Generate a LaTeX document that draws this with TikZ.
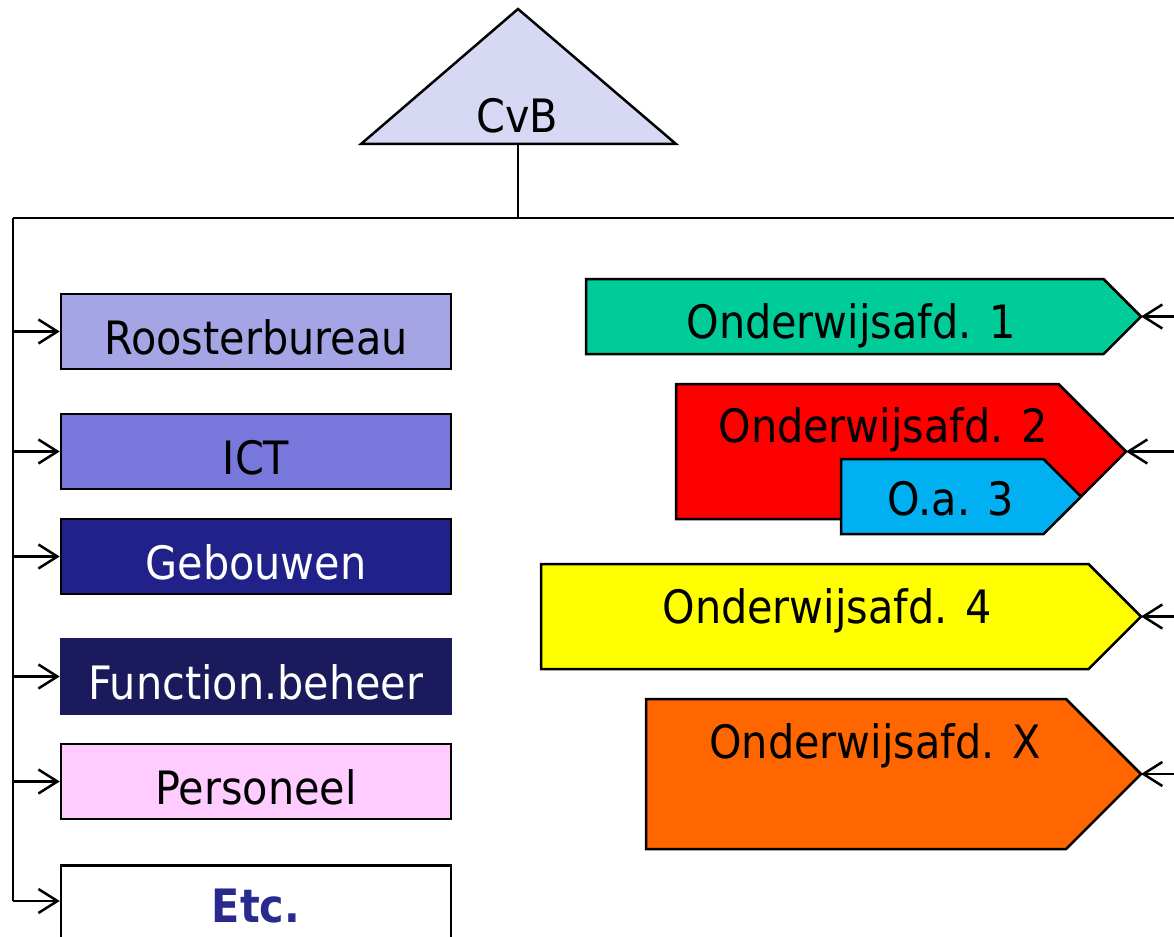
\documentclass[tikz,border=0pt]{standalone}
\usepackage{fontspec}
\setmainfont{DejaVu Sans Condensed}
\usetikzlibrary{arrows.meta}

\definecolor{cvbfill}{HTML}{D6D8F4}
\definecolor{roosterfill}{HTML}{A5A5E6}
\definecolor{ictfill}{HTML}{7878DC}
\definecolor{gebouwfill}{HTML}{21218A}
\definecolor{functfill}{HTML}{1A1A5C}
\definecolor{persfill}{HTML}{FFCCFF}
\definecolor{etctext}{HTML}{2A2A8E}
\definecolor{oafill}{HTML}{00CC99}
\definecolor{obfill}{HTML}{FF0000}
\definecolor{ocfill}{HTML}{00B0F0}
\definecolor{odfill}{HTML}{FFFF00}
\definecolor{oxfill}{HTML}{FF6600}

\tikzset{
  wire/.style={line width=2.5pt, line join=miter},
  arr/.style={wire, -{Straight Barb[length=19pt,width=24pt,line width=2.5pt]}},
  unit/.style={draw=black, line width=2.5pt, minimum width=390pt, minimum height=75pt,
    inner sep=0pt, text height=45pt, text depth=0pt, font=\fontsize{46}{50}\selectfont},
  dept/.style={draw=black, line width=2.5pt, line join=miter},
  deptlabel/.style={anchor=base, inner sep=0pt, font=\fontsize{46}{50}\selectfont}
}

\begin{document}
\begin{tikzpicture}[x=1pt, y=-1pt]
\useasboundingbox (0,0) rectangle (1174,936);
\clip (0,0) rectangle (1174,936);

% board triangle
\coordinate (apex) at (518,9);
\coordinate (bl) at (361,144);
\coordinate (br) at (676,144);
\coordinate (cvbbase) at (518,144);
\fill[cvbfill] (apex) -- (bl) -- (br) -- cycle;
\draw[wire] (apex) -- (bl) -- (br) -- cycle;
\node[deptlabel] (cvb) at (517,133) {CvB};

% main distribution lines
\coordinate (hub) at (518,218);
\coordinate (lt) at (13,218);
\coordinate (rt) at (1176,218);
\coordinate (lb) at (13,901);
\draw[wire] (cvbbase) -- (hub);
\draw[wire] (lt) -- (rt);
\draw[wire] (lt) -- (lb);

% staff units on the left
\node[unit, fill=roosterfill] (rooster) at (256,331.5) {Roosterbureau};
\node[unit, fill=ictfill] (ict) at (256,451.5) {ICT};
\node[unit, fill=gebouwfill, text=white] (gebouw) at (256,556.5) {Gebouwen};
\node[unit, fill=functfill, draw=functfill, text=white] (funct) at (256,676.5) {Function.beheer};
\node[unit, fill=persfill] (pers) at (256,781.5) {Personeel};
\node[unit, fill=white, text=etctext, text height=38pt, font=\fontsize{46}{50}\selectfont\bfseries] (etc) at (256,903) {Etc.};

\foreach \n in {rooster,ict,gebouw,funct,pers}
  \draw[arr] (lt |- \n.west) -- (\n.west);
\draw[arr] (lb) -- (etc.west |- lb);

% departments on the right
\coordinate (t1) at (1141,316.5);
\fill[oafill] (586,279) -- (1103.5,279) -- (t1) -- (1103.5,354) -- (586,354) -- cycle;
\draw[dept] (586,279) -- (1103.5,279) -- (t1) -- (1103.5,354) -- (586,354) -- cycle;
\node[deptlabel] (oa) at (851,338) {Onderwijsafd. 1};

\coordinate (t2) at (1126,451.5);
\fill[obfill] (676,384) -- (1058.5,384) -- (t2) -- (1058.5,519) -- (676,519) -- cycle;
\draw[dept] (676,384) -- (1058.5,384) -- (t2) -- (1058.5,519) -- (676,519) -- cycle;
\node[deptlabel] (ob) at (883,442) {Onderwijsafd. 2};

\coordinate (t3) at (1081,496.5);
\fill[ocfill] (841,459) -- (1043.5,459) -- (t3) -- (1043.5,534) -- (841,534) -- cycle;
\draw[dept] (841,459) -- (1043.5,459) -- (t3) -- (1043.5,534) -- (841,534) -- cycle;
\node[deptlabel] (oc) at (951,515) {O.a. 3};

\coordinate (t4) at (1141,616.5);
\fill[odfill] (541,564) -- (1088.5,564) -- (t4) -- (1088.5,669) -- (541,669) -- cycle;
\draw[dept] (541,564) -- (1088.5,564) -- (t4) -- (1088.5,669) -- (541,669) -- cycle;
\node[deptlabel] (od) at (827,623) {Onderwijsafd. 4};

\coordinate (t5) at (1141,774);
\fill[oxfill] (646,699) -- (1066,699) -- (t5) -- (1066,849) -- (646,849) -- cycle;
\draw[dept] (646,699) -- (1066,699) -- (t5) -- (1066,849) -- (646,849) -- cycle;
\node[deptlabel] (ox) at (875,758) {Onderwijsafd. X};

% feeds from the right edge
\foreach \t in {t1,t2,t4,t5}
  \draw[arr] (1176,0 |- \t) -- (\t);
\end{tikzpicture}
\end{document}
